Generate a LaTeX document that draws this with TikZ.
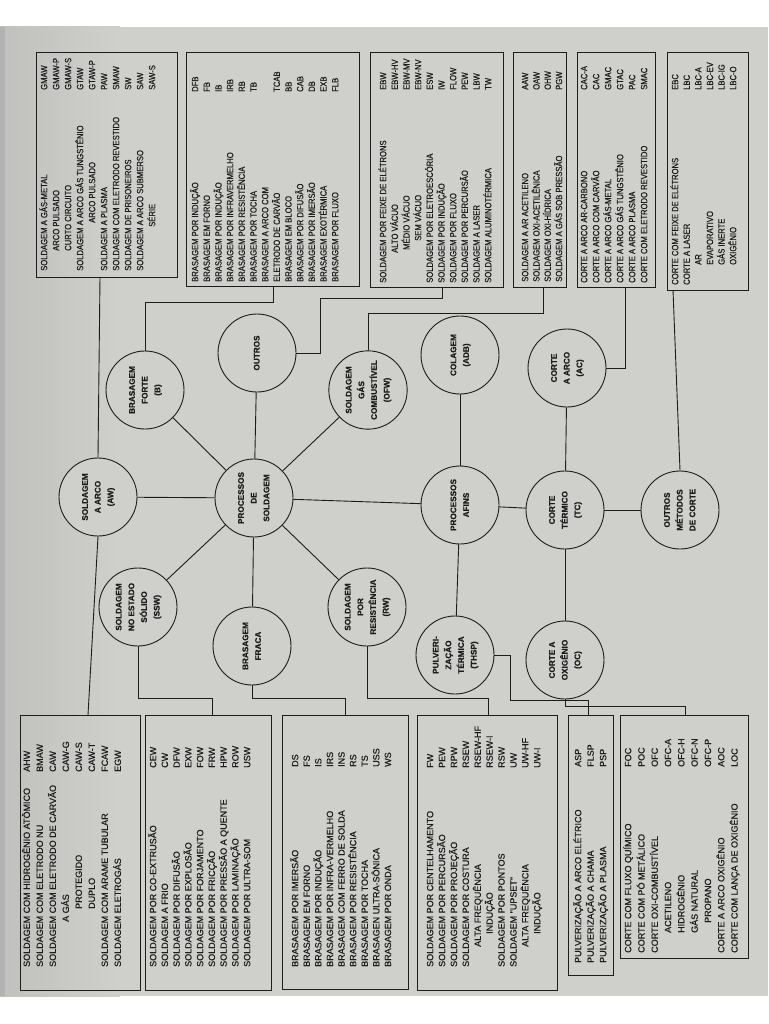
\documentclass[tikz,border=0pt]{standalone}
\usepackage{fontspec}
\setmainfont{Liberation Sans}
\newfontfamily\botfont[FakeBold=0.6]{Liberation Sans}
\newfontfamily\topfont[FakeStretch=0.85,FakeBold=0.6]{Liberation Sans}
\newfontfamily\circfont[FakeBold=0.4]{Liberation Sans Bold}
\definecolor{pagegray}{RGB}{207,207,204}
\definecolor{pagedark}{RGB}{192,192,189}
\definecolor{ink}{RGB}{28,28,28}
\newcommand{\bxt}[4]{#1\fontsize{9}{#2}\selectfont\begin{tabular}[t]{@{}p{#3}@{}l@{}}#4\end{tabular}}
\newcommand{\ct}[1]{\rotatebox{90}{\begin{tabular}{@{}c@{}}#1\end{tabular}}}
\begin{document}
\begin{tikzpicture}[x=1pt,y=-1pt]
\tikzset{
  boxst/.style={draw=ink, line width=0.9pt, anchor=north west, inner sep=0pt},
  btxt/.style={rotate=90, anchor=base west, inner sep=0pt, text=ink},
  circ/.style={circle, draw=ink, line width=0.9pt, fill=pagegray, minimum size=78pt, inner sep=0pt,
     font=\circfont\fontsize{8.2}{12.7}\selectfont, text=ink},
  con/.style={draw=ink, line width=0.9pt}
}
\fill[white] (0,0) rectangle (768,1024);
\shade[left color=pagedark, right color=pagegray, shading angle=90] (0,27) rectangle (120,996);
\fill[pagegray] (119.5,27) rectangle (768,996);
\fill[black!30] (0,27) rectangle (5,996);
\useasboundingbox (0,0) rectangle (768,1024);

% ---------- top boxes ----------
\node[boxst, minimum width=141pt, minimum height=225pt] (R1) at (36,52) {};
\node[boxst, minimum width=173pt, minimum height=234pt] (R2) at (186,52) {};
\node[boxst, minimum width=133pt, minimum height=235pt] (R3) at (370,52) {};
\node[boxst, minimum width=53pt, minimum height=235pt] (R4) at (513,52) {};
\node[boxst, minimum width=78pt, minimum height=235pt] (R5) at (577,52) {};
\node[boxst, minimum width=81pt, minimum height=238pt] (R6) at (667,52) {};

\node[btxt] (T1) at (47.2,271) {\bxt{\topfont}{12}{181pt}{%
SOLDAGEM A GÁS-METAL & GMAW\\
\hspace*{20pt}ARCO PULSADO & GMAW-P\\
\hspace*{20pt}CURTO CIRCUITO & GMAW-S\\
SOLDAGEM A ARCO GÁS TUNGSTÊNIO & GTAW\\
\hspace*{48pt}ARCO PULSADO & GTAW-P\\
SOLDAGEM A PLASMA & PAW\\
SOLDAGEM COM ELETRODO REVESTIDO & SMAW\\
SOLDAGEM DE PRISONEIROS & SW\\
SOLDAGEM A ARCO SUBMERSO & SAW\\
\hspace*{44pt}SÉRIE & SAW-S}};

\node[btxt] (T2) at (198.2,282) {\bxt{\topfont}{11.67}{190pt}{%
BRASAGEM POR INDUÇÃO & DFB\\
BRASAGEM EM FORNO & FB\\
BRASAGEM POR INDUÇÃO & IB\\
BRASAGEM POR INFRAVERMELHO & IRB\\
BRASAGEM POR RESISTÊNCIA & RB\\
BRASAGEM POR TOCHA & TB\\
BRASAGEM A ARCO COM & \\
ELETRODO DE CARVÃO & TCAB\\
BRASAGEM EM BLOCO & BB\\
BRASAGEM POR DIFUSÃO & CAB\\
BRASAGEM POR IMERSÃO & DB\\
BRASAGEM EXOTÉRMICA & EXB\\
BRASAGEM POR FLUXO & FLB}};

\node[btxt] (T3) at (386.2,283) {\bxt{\topfont}{11.67}{193pt}{%
SOLDAGEM POR FEIXE DE ELÉTRONS & EBW\\
\hspace*{30pt}ALTO VÁCUO & EBW-HV\\
\hspace*{33pt}MÉDIO VÁCUO & EBW-MV\\
\hspace*{42pt}SEM VÁCUO & EBW-NV\\
SOLDAGEM POR ELETROESCÓRIA & ESW\\
SOLDAGEM POR INDUÇÃO & IW\\
SOLDAGEM POR FLUXO & FLOW\\
SOLDAGEM POR PERCURSÃO & PEW\\
SOLDAGEM A LASER & LBW\\
SOLDAGEM ALUMINOTÉRMICA & TW}};

\node[btxt] (T4) at (528.2,282) {\bxt{\topfont}{11.3}{192pt}{%
SOLDAGEM A AR ACETILENO & AAW\\
SOLDAGEM OXI-ACETILÊNICA & OAW\\
SOLDAGEM OXI-HÍDRICA & OHW\\
SOLDAGEM A GÁS SOB PRESSÃO & PGW}};

\node[btxt] (T5) at (587.2,283) {\bxt{\topfont}{12}{193pt}{%
CORTE A ARCO AR-CARBONO & CAC-A\\
CORTE A ARCO COM CARVÃO & CAC\\
CORTE A ARCO GÁS-METAL & GMAC\\
CORTE A ARCO GÁS TUNGSTÊNIO & GTAC\\
CORTE A ARCO PLASMA & PAC\\
CORTE COM ELETRODO REVESTIDO & SMAC}};

\node[btxt] (T6) at (678.2,285) {\bxt{\topfont}{11.6}{195pt}{%
CORTE COM FEIXE DE ELÉTRONS & EBC\\
CORTE A LASER & LBC\\
\hspace*{20pt}AR & LBC-A\\
\hspace*{20pt}EVAPORATIVO & LBC-EV\\
\hspace*{20pt}GÁS INERTE & LBC-IG\\
\hspace*{20pt}OXIGÊNIO & LBC-O}};

% ---------- bottom boxes ----------
\node[boxst, minimum width=120pt, minimum height=275pt] (L1) at (20,715) {};
\node[boxst, minimum width=126pt, minimum height=275pt] (L2) at (145,715) {};
\node[boxst, minimum width=126pt, minimum height=274pt] (L3) at (282,715) {};
\node[boxst, minimum width=140pt, minimum height=275pt] (L4) at (417,715) {};
\node[boxst, minimum width=45pt, minimum height=260pt] (L5) at (568,715) {};
\node[boxst, minimum width=128pt, minimum height=243pt] (L6) at (620,715) {};

\node[btxt] (B1) at (29.9,967) {\bxt{\botfont}{13}{195pt}{%
SOLDAGEM COM HIDROGÊNIO ATÔMICO & AHW\\
SOLDAGEM COM ELETRODO NU & BMAW\\
SOLDAGEM COM ELETRODO DE CARVÃO & CAW\\
\hspace*{45pt}A GÁS & CAW-G\\
\hspace*{58pt}PROTEGIDO & CAW-S\\
\hspace*{58pt}DUPLO & CAW-T\\
SOLDAGEM COM ARAME TUBULAR & FCAW\\
SOLDAGEM ELETROGÁS & EGW}};

\node[btxt] (B2) at (156.2,967) {\bxt{\botfont}{11.75}{199pt}{%
SOLDAGEM POR CO-EXTRUSÃO & CEW\\
SOLDAGEM A FRIO & CW\\
SOLDAGEM POR DIFUSÃO & DFW\\
SOLDAGEM POR EXPLOSÃO & EXW\\
SOLDAGEM POR FORJAMENTO & FOW\\
SOLDAGEM POR FRICÇÃO & FRW\\
SOLDAGEM POR PRESSÃO A QUENTE & HPW\\
SOLDAGEM POR LAMINAÇÃO & ROW\\
SOLDAGEM POR ULTRA-SOM & USW}};

\node[btxt] (B3) at (298.2,967) {\bxt{\botfont}{11.6}{200pt}{%
BRASAGEM POR IMERSÃO & DS\\
BRASAGEM EM FORNO & FS\\
BRASAGEM POR INDUÇÃO & IS\\
BRASAGEM POR INFRA-VERMELHO & IRS\\
BRASAGEM COM FERRO DE SOLDA & INS\\
BRASAGEM POR RESISTÊNCIA & RS\\
BRASAGEM POR TOCHA & TS\\
BRASAGEN ULTRA-SÔNICA & USS\\
BRASAGEM POR ONDA & WS}};

\node[btxt] (B4) at (433.2,967) {\bxt{\botfont}{11.9}{199pt}{%
SOLDAGEM POR CENTELHAMENTO & FW\\
SOLDAGEM POR PERCURSÃO & PEW\\
SOLDAGEM POR PROJEÇÃO & RPW\\
SOLDAGEM POR COSTURA & RSEW\\
\hspace*{20pt}ALTA FREQUÊNCIA & RSEW-HF\\
\hspace*{33pt}INDUÇÃO & RSEW-I\\
SOLDAGEM POR PONTOS & RSW\\
SOLDAGEM "UPSET" & UW\\
\hspace*{20pt}ALTA FREQUÊNCIA & UW-HF\\
\hspace*{33pt}INDUÇÃO & UW-I}};

\node[btxt] (B5) at (581.2,963) {\bxt{\botfont}{12.5}{196pt}{%
PULVERIZAÇÃO A ARCO ELÉTRICO & ASP\\
PULVERIZAÇÃO A CHAMA & FLSP\\
PULVERIZAÇÃO A PLASMA & PSP}};

\node[btxt] (B6) at (631.2,953) {\bxt{\botfont}{13.3}{186pt}{%
CORTE COM FLUXO QUÍMICO & FOC\\
CORTE COM PÓ METÁLICO & POC\\
CORTE OXI-COMBUSTÍVEL & OFC\\
\hspace*{20pt}ACETILENO & OFC-A\\
\hspace*{20pt}HIDROGÊNIO & OFC-H\\
\hspace*{20pt}GÁS NATURAL & OFC-N\\
\hspace*{30pt}PROPANO & OFC-P\\
CORTE A ARCO OXIGÊNIO & AOC\\
CORTE COM LANÇA DE OXIGÊNIO & LOC}};

% ---------- circles ----------
\node[circ] (PROC) at (254,498) {\ct{PROCESSOS\\DE\\SOLDAGEM}};
\node[circ] (AW) at (98,497) {\ct{SOLDAGEM\\A ARCO\\(AW)}};
\node[circ] (B) at (145,390) {\ct{BRASAGEM\\FORTE\\(B)}};
\node[circ] (OUT) at (257,353) {\ct{OUTROS}};
\node[circ] (OFW) at (368,390) {\ct{SOLDAGEM\\GÁS\\COMBUSTÍVEL\\(OFW)}};
\node[circ] (ADB) at (460,355) {\ct{COLAGEM\\(ADB)}};
\node[circ] (AC) at (567,368) {\ct{CORTE\\A ARCO\\(AC)}};
\node[circ] (AFINS) at (460,505) {\ct{PROCESSOS\\AFINS}};
\node[circ] (TC) at (565,510) {\ct{CORTE\\TÉRMICO\\(TC)}};
\node[circ] (OMC) at (680,510) {\ct{OUTROS\\MÉTODOS\\DE CORTE}};
\node[circ] (SSW) at (138,607) {\ct{SOLDAGEM\\NO ESTADO\\SÓLIDO\\(SSW)}};
\node[circ] (FRACA) at (252,646) {\ct{BRASAGEM\\FRACA}};
\node[circ] (RW) at (367,607) {\ct{SOLDAGEM\\POR\\RESISTÊNCIA\\(RW)}};
\node[circ] (THSP) at (455,655) {\ct{PULVERI-\\ZAÇÃO\\TÉRMICA\\(THSP)}};
\node[circ] (OC) at (565,660) {\ct{CORTE A\\OXIGÊNIO\\(OC)}};

% ---------- spokes ----------
\foreach \n in {AW,B,OUT,OFW,AFINS,RW,FRACA,SSW} \draw[con] (PROC) -- (\n);
\foreach \n in {ADB,THSP,TC} \draw[con] (AFINS) -- (\n);
\foreach \n in {AC,OC,OMC} \draw[con] (TC) -- (\n);

% ---------- box connectors ----------
\coordinate (kR1) at (100,277);
\draw[con] (AW.north) -- (kR1);
\coordinate (kL1) at (88,715);
\draw[con] (AW.south) -- (kL1);
\coordinate (kR2) at (273,286);
\draw[con] (B.north) -- (B.north |- 0,302) -| (kR2);
\coordinate (kR3) at (442,287);
\draw[con] (OUT.east) -- (320,353) -- (320,298) -| (kR3);
\coordinate (kR4) at (543,287);
\draw[con] (OFW.north) -- (OFW.north |- 0,313) -| (kR4);
\coordinate (kR5) at (625,287);
\draw[con] (AC.east) -| (kR5);
\coordinate (kR6) at (673,290);
\draw[con] (OMC.north) -- (kR6);
\coordinate (kL2) at (212,715);
\draw[con] (SSW.south) -- (SSW.south |- 0,698) -| (kL2);
\coordinate (kL3) at (345,715);
\draw[con] (FRACA.south) -- (FRACA.south |- 0,698) -| (kL3);
\coordinate (kL4) at (488,715);
\draw[con] (RW.south) -- (RW.south |- 0,698) -| (kL4);
\coordinate (kL5) at (588,715);
\draw[con] (THSP.east) -- (510,655) -- (510,700) -| (kL5);
\coordinate (kL6) at (685,715);
\draw[con] (OC.south) -- (OC.south |- 0,706) -| (kL6);
\end{tikzpicture}
\end{document}
